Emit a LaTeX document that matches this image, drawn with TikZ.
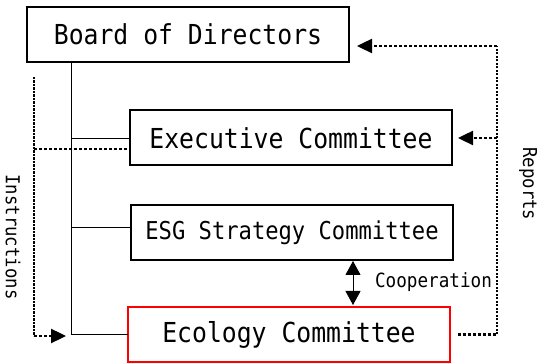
\documentclass[tikz,border=0pt]{standalone}
\usepackage{fontspec}
\setmainfont{DejaVu Sans Mono}[FakeStretch=0.9]
\usetikzlibrary{arrows.meta}
\begin{document}
\begin{tikzpicture}[x=1pt,y=-1pt,
  orgbox/.style={draw=black,line width=2pt,fill=white,minimum width=322pt,
    minimum height=55pt,inner sep=0pt,outer sep=0pt,
    font=\fontsize{27.5}{30}\selectfont},
  link/.style={line width=0.9pt,black},
  doth/.style={line width=2.4pt,dash pattern=on 2.6pt off 2.4pt},
  dotv/.style={line width=2.4pt,dash pattern=on 2.3pt off 1.2pt},
  tip/.style={-{Triangle[length=15pt,width=14pt]}},
  sidelabel/.style={font=\fontsize{19.2}{22}\selectfont,inner sep=0pt}]
  \useasboundingbox (0,0) rectangle (542,363);

  % committees
  \node[orgbox] (board) at (188,34.5) {\raisebox{-1.5pt}{Board of Directors}};
  \node[orgbox] (exec)  at (291,138) {\raisebox{-1pt}{Executive Committee}};
  \node[orgbox,font=\fontsize{24.6}{28}\selectfont] (esg) at (292,232.5) {\raisebox{-1pt}{ESG Strategy Committee}};
  \node[orgbox,draw=red] (eco) at (289,334.5) {\raisebox{-1pt}{Ecology Committee}};

  % reporting line from the board
  \coordinate (trunk) at (71,0);
  \draw[link] (board.south -| trunk) |- (eco.west);
  \draw[link] (exec.west -| trunk) -- (exec.west);
  \draw[link] ([yshift=5.5pt]esg.west -| trunk) -- ([yshift=5.5pt]esg.west);

  % cooperation between ESG and ecology committees
  \coordinate (coopx) at (353,0);
  \draw[link,{Triangle[length=14pt,width=15pt]}-{Triangle[length=14pt,width=15pt]}]
    ([yshift=-1pt]esg.south -| coopx) -- ([yshift=2pt]eco.north -| coopx);
  \node[font=\fontsize{19.6}{22}\selectfont,inner sep=0pt] (coop) at (433.5,282) {Cooperation};

  % instructions (left)
  \coordinate (itop) at (34,77);
  \coordinate (ibot) at (34,336);
  \coordinate (itip) at (66,336);
  \draw[dotv] (itop) -- (ibot);
  \draw[doth,tip] (ibot) -- (itip);
  \draw[doth] (itop |- 0,149) -- ([yshift=-11pt]exec.west);
  \node[sidelabel,rotate=-90] (instr) at (13,237) {Instructions};

  % reports (right)
  \coordinate (rtop) at (497,46);
  \coordinate (rbot) at (rtop |- eco.east);
  \draw[dotv] (rbot) -- (rtop);
  \draw[doth,tip] (rtop) -- ([xshift=8pt]board.east |- rtop);
  \draw[doth,tip] (rtop |- exec.east) -- ([xshift=6pt]exec.east);
  \draw[doth] ([xshift=8pt]eco.east) -- (rbot);
  \node[sidelabel,rotate=-90] (rep) at (528,184) {Reports};
\end{tikzpicture}
\end{document}
